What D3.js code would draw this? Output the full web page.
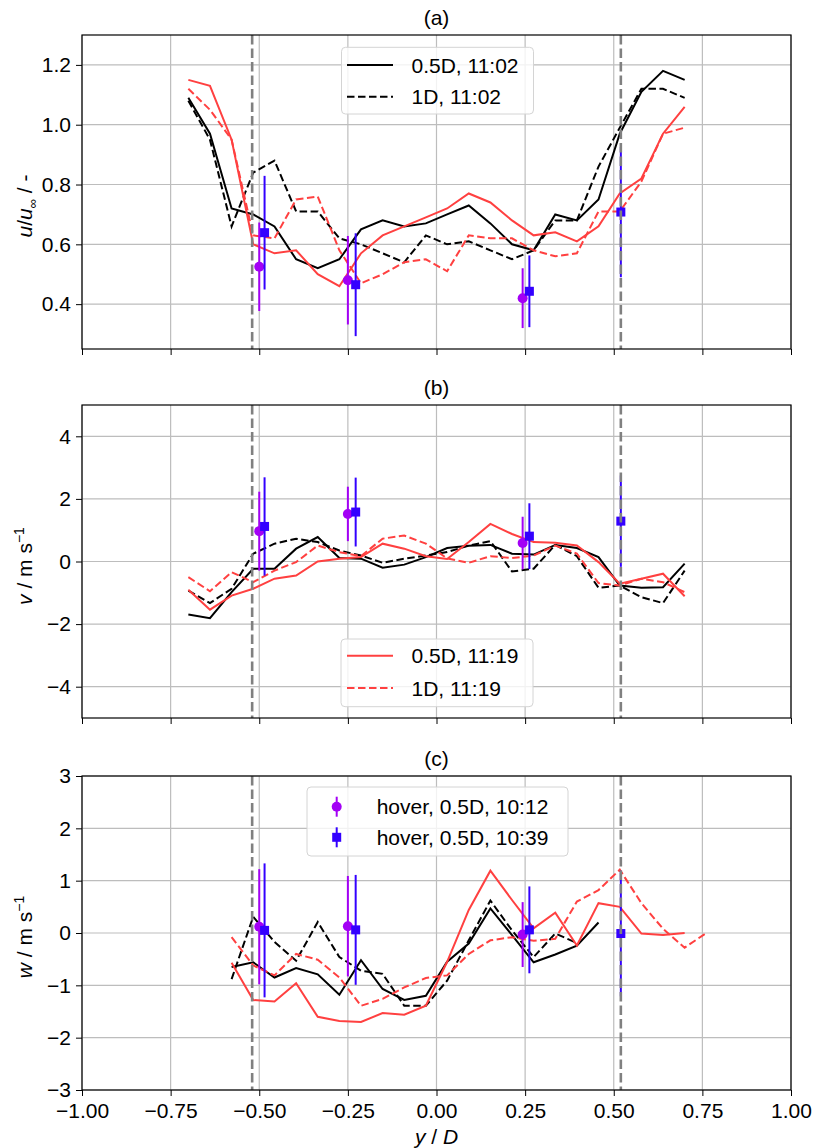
<!DOCTYPE html>
<html><head><meta charset="utf-8">
<script src="https://cdn.jsdelivr.net/npm/d3@7"></script>
<style>body{margin:0;background:#fff} text{font-family:"Liberation Sans",Arial,sans-serif;fill:#000}</style>
</head><body><svg id="chart" width="815" height="1148"></svg>
<script>
// ---------- data ----------
const xs = [-0.700,-0.639,-0.578,-0.517,-0.457,-0.396,-0.335,-0.274,-0.213,-0.152,-0.091,-0.030,0.030,0.091,0.152,0.213,0.274,0.335,0.396,0.457,0.517,0.578,0.639,0.700,0.761];
const xTicks = [-1.00,-0.75,-0.50,-0.25,0.00,0.25,0.50,0.75,1.00];
const turbineEdges = [-0.52, 0.52];

// panel (a) u/u_inf
const aBlackSolid  = [1.09,0.97,0.72,0.70,0.66,0.55,0.52,0.55,0.65,0.68,0.66,0.67,0.70,0.73,0.67,0.60,0.58,0.70,0.68,0.75,0.97,1.11,1.18,1.15];
const aBlackDashed = [1.08,0.95,0.66,0.84,0.88,0.71,0.71,0.62,0.60,0.57,0.54,0.63,0.60,0.61,0.58,0.55,0.58,0.68,0.68,0.86,0.99,1.12,1.12,1.09];
const aRedSolid    = [1.15,1.13,0.95,0.60,0.57,0.58,0.50,0.46,0.57,0.63,0.66,0.69,0.72,0.77,0.74,0.68,0.63,0.64,0.61,0.66,0.77,0.82,0.97,1.06];
const aRedDashed   = [1.12,1.05,0.95,0.63,0.62,0.75,0.76,0.58,0.47,0.50,0.54,0.55,0.51,0.63,0.62,0.62,0.58,0.56,0.57,0.71,0.71,0.81,0.97,0.99];
const aTicks = [0.4,0.6,0.8,1.0,1.2];

// panel (b) v
const bBlackSolid  = [-1.69,-1.81,-0.98,-0.23,-0.23,0.41,0.78,0.11,0.09,-0.20,-0.10,0.14,0.43,0.50,0.53,0.25,0.22,0.53,0.43,0.14,-0.77,-0.84,-0.82,-0.07];
const bBlackDashed = [-0.93,-1.33,-0.87,0.25,0.57,0.73,0.62,0.35,0.19,-0.04,0.09,0.19,0.30,0.51,0.65,-0.32,-0.23,0.53,0.17,-0.84,-0.77,-1.14,-1.33,-0.29];
const bRedSolid    = [-0.90,-1.54,-1.09,-0.87,-0.55,-0.45,0.00,0.09,0.14,0.57,0.41,0.17,0.08,0.62,1.20,0.88,0.62,0.60,0.51,-0.02,-0.71,-0.55,-0.39,-1.11];
const bRedDashed   = [-0.50,-0.95,-0.34,-0.66,-0.29,-0.02,0.51,0.30,0.17,0.73,0.83,0.57,0.10,-0.04,0.17,0.11,0.19,0.51,0.25,-0.69,-0.77,-0.55,-0.66,-0.98];
const bTicks = [-4,-2,0,2,4];

// panel (c) w
const cBlackSolid  = [null,null,-0.65,-0.56,-0.85,-0.67,-0.79,-1.18,-0.52,-1.07,-1.28,-1.20,-0.55,-0.20,0.47,-0.04,-0.56,-0.41,-0.24,0.20];
const cBlackDashed = [null,null,-0.88,0.31,-0.17,-0.53,0.21,-0.46,-0.72,-0.78,-1.39,-1.39,-0.91,-0.14,0.62,0.05,-0.46,-0.01,-0.19];
const cRedSolid    = [null,null,-0.57,-1.28,-1.31,-0.96,-1.60,-1.68,-1.70,-1.53,-1.56,-1.39,-0.55,0.44,1.19,0.63,0.09,0.39,-0.24,0.57,0.50,-0.01,-0.04,0.00];
const cRedDashed   = [null,null,-0.08,-0.62,-0.81,-0.40,-0.51,-0.85,-1.39,-1.26,-1.04,-0.86,-0.81,-0.40,-0.14,-0.08,-0.15,-0.11,0.60,0.82,1.21,0.57,0.08,-0.28,0.00];
const cTicks = [-3,-2,-1,0,1,2,3];

// hover measurements
const hover1012X = [-0.500,-0.250,0.243];
const hover1012A = [0.525,0.480,0.420], hover1012AErr = [0.148,0.148,0.100];
const hover1012B = [0.97,1.52,0.59],    hover1012BErr = [1.26,0.87,0.84];
const hover1012C = [0.12,0.13,-0.03],   hover1012CErr = [1.10,0.96,0.62];
const hover1039X = [-0.485,-0.228,0.262,0.520];
const hover1039A = [0.639,0.465,0.443,0.708], hover1039AErr = [0.190,0.172,0.120,0.218];
const hover1039B = [1.12,1.58,0.81,1.29],     hover1039BErr = [1.57,1.10,1.05,1.46];
const hover1039C = [0.05,0.06,0.06,-0.01],    hover1039CErr = [1.28,1.05,0.83,1.20];

// ---------- layout / style ----------
const RED = "#ff4040", PURPLE = "#a300f5", BLUE = "#3300ff";
const FONT = 21;
const L = 82, R = 791;
const svg = d3.select("#chart");
const x = d3.scaleLinear().domain([-1,1]).range([L,R]);

const panels = [
  {title:"(a)", top:35, bottom:349, domain:[0.25,1.3], ticks:aTicks, fmt:d3.format(".1f"),
   lines:[[aBlackSolid,"#000",null],[aBlackDashed,"#000","7.5,3.5"],[aRedSolid,RED,null],[aRedDashed,RED,"7.5,3.5"]],
   h1:[hover1012A,hover1012AErr], h2:[hover1039A,hover1039AErr], labelY:206, xLabels:false},
  {title:"(b)", top:405, bottom:718, domain:[-5,5], ticks:bTicks, fmt:d3.format("d"),
   lines:[[bBlackSolid,"#000",null],[bBlackDashed,"#000","7.5,3.5"],[bRedSolid,RED,null],[bRedDashed,RED,"7.5,3.5"]],
   h1:[hover1012B,hover1012BErr], h2:[hover1039B,hover1039BErr], labelY:566, xLabels:false},
  {title:"(c)", top:776, bottom:1090, domain:[-3,3], ticks:cTicks, fmt:d3.format("d"),
   lines:[[cBlackSolid,"#000",null],[cBlackDashed,"#000","7.5,3.5"],[cRedSolid,RED,null],[cRedDashed,RED,"7.5,3.5"]],
   h1:[hover1012C,hover1012CErr], h2:[hover1039C,hover1039CErr], labelY:937, xLabels:true}
];

panels.forEach((p, pi) => {
  const y = d3.scaleLinear().domain(p.domain).range([p.bottom, p.top]);
  const g = svg.append("g");
  const clipId = "clip"+pi;
  svg.append("clipPath").attr("id",clipId).append("rect")
    .attr("x",L).attr("y",p.top).attr("width",R-L).attr("height",p.bottom-p.top);

  // grid
  g.append("g").selectAll("line").data(xTicks).join("line")
    .attr("x1",d=>x(d)).attr("x2",d=>x(d)).attr("y1",p.top).attr("y2",p.bottom)
    .attr("stroke","#bdbdbd").attr("stroke-width",1.2);
  g.append("g").selectAll("line").data(p.ticks).join("line")
    .attr("x1",L).attr("x2",R).attr("y1",d=>y(d)).attr("y2",d=>y(d))
    .attr("stroke","#bdbdbd").attr("stroke-width",1.2);

  const plot = g.append("g").attr("clip-path",`url(#${clipId})`);
  const line = d3.line().defined(d=>d[1]!=null).x(d=>x(d[0])).y(d=>y(d[1]));
  p.lines.forEach(([vals,color,dash]) => {
    const pts = vals.map((v,i)=>[xs[i],v]);
    plot.append("path").attr("d",line(pts)).attr("fill","none")
      .attr("stroke",color).attr("stroke-width",2)
      .attr("stroke-dasharray",dash);
  });

  // error bars
  const drawHover = (xv, [vals,errs], color, shape) => {
    const gg = plot.append("g");
    xv.forEach((xx,i) => {
      gg.append("line").attr("x1",x(xx)).attr("x2",x(xx))
        .attr("y1",y(vals[i]-errs[i])).attr("y2",y(vals[i]+errs[i]))
        .attr("stroke",color).attr("stroke-width",2);
      if (shape==="circle") gg.append("circle").attr("cx",x(xx)).attr("cy",y(vals[i])).attr("r",5).attr("fill",color);
      else gg.append("rect").attr("x",x(xx)-4.5).attr("y",y(vals[i])-4.5).attr("width",9).attr("height",9).attr("fill",color);
    });
  };
  drawHover(hover1012X, p.h1, PURPLE, "circle");
  drawHover(hover1039X, p.h2, BLUE, "square");

  // turbine edges
  plot.append("g").selectAll("line").data(turbineEdges).join("line")
    .attr("x1",d=>x(d)).attr("x2",d=>x(d)).attr("y1",p.top).attr("y2",p.bottom)
    .attr("stroke","#808080").attr("stroke-width",2.6).attr("stroke-dasharray","9.5,4");

  // axes
  const ya = d3.axisLeft(y).tickValues(p.ticks).tickFormat(p.fmt).tickSize(6).tickPadding(5);
  const yg = g.append("g").attr("transform",`translate(${L},0)`).call(ya);
  const xa = d3.axisBottom(x).tickValues(xTicks).tickFormat(p.xLabels ? d3.format(".2f") : "").tickSize(6).tickPadding(7);
  const xg = g.append("g").attr("transform",`translate(0,${p.bottom})`).call(xa);
  [yg,xg].forEach(a => {
    a.select(".domain").remove();
    a.selectAll("text").attr("font-size",FONT).attr("font-family","Liberation Sans, Arial, sans-serif").attr("fill","#000");
    a.selectAll("line").attr("stroke","#000").attr("stroke-width",1);
  });
  g.append("rect").attr("x",L).attr("y",p.top).attr("width",R-L).attr("height",p.bottom-p.top)
    .attr("fill","none").attr("stroke","#000").attr("stroke-width",1.2);

  // title
  g.append("text").attr("x",(L+R)/2).attr("y",p.top-10).attr("text-anchor","middle")
    .attr("font-size",FONT).text(p.title);
});

// y labels
function yLabel(cy, build){
  const t = svg.append("text").attr("transform",`translate(32,${cy}) rotate(-90)`)
    .attr("text-anchor","middle").attr("font-size",FONT);
  build(t);
}
yLabel(panels[0].labelY, t => {
  t.append("tspan").attr("font-style","italic").text("u");
  t.append("tspan").text("/");
  t.append("tspan").attr("font-style","italic").text("u");
  t.append("tspan").attr("font-size",13).attr("dy",5).text("\u221e");
  t.append("tspan").attr("dy",-5).text(" / -");
});
yLabel(panels[1].labelY, t => {
  t.append("tspan").attr("font-style","italic").text("v");
  t.append("tspan").text(" / m s");
  t.append("tspan").attr("font-size",14).attr("dy",-8).text("\u22121");
});
yLabel(panels[2].labelY, t => {
  t.append("tspan").attr("font-style","italic").text("w");
  t.append("tspan").text(" / m s");
  t.append("tspan").attr("font-size",14).attr("dy",-8).text("\u22121");
});
// x label
const xl = svg.append("text").attr("x",(L+R)/2).attr("y",1144).attr("text-anchor","middle").attr("font-size",FONT);
xl.append("tspan").attr("font-style","italic").text("y");
xl.append("tspan").text(" / ");
xl.append("tspan").attr("font-style","italic").text("D");

// legends
function legend(bx, by, bw, bh, rows){
  const g = svg.append("g");
  g.append("rect").attr("x",bx).attr("y",by).attr("width",bw).attr("height",bh).attr("rx",4)
    .attr("fill","#fff").attr("fill-opacity",0.8).attr("stroke","#d4d4d4").attr("stroke-width",1);
  rows.forEach(r => {
    if (r.type==="line") {
      g.append("line").attr("x1",r.hx0).attr("x2",r.hx1).attr("y1",r.cy).attr("y2",r.cy)
        .attr("stroke",r.color).attr("stroke-width",2).attr("stroke-dasharray",r.dash);
    } else {
      g.append("line").attr("x1",r.hx).attr("x2",r.hx).attr("y1",r.cy-10).attr("y2",r.cy+10)
        .attr("stroke",r.color).attr("stroke-width",2);
      if (r.shape==="circle") g.append("circle").attr("cx",r.hx).attr("cy",r.cy).attr("r",5).attr("fill",r.color);
      else g.append("rect").attr("x",r.hx-4.5).attr("y",r.cy-4.5).attr("width",9).attr("height",9).attr("fill",r.color);
    }
    g.append("text").attr("x",r.tx).attr("y",r.cy+7.5).attr("font-size",FONT).text(r.label);
  });
}
legend(341.5,47.3,192,66.7,[
  {type:"line",hx0:347,hx1:393,cy:65,color:"#000",dash:null,tx:411.5,label:"0.5D, 11:02"},
  {type:"line",hx0:347,hx1:393,cy:96.7,color:"#000",dash:"7.5,3.5",tx:411.5,label:"1D, 11:02"}
]);
legend(341,639,192,67.7,[
  {type:"line",hx0:347,hx1:393,cy:655.7,color:RED,dash:null,tx:411.5,label:"0.5D, 11:19"},
  {type:"line",hx0:347,hx1:393,cy:688,color:RED,dash:"7.5,3.5",tx:411.5,label:"1D, 11:19"}
]);
legend(307,787,261,69,[
  {type:"err",hx:336.7,cy:806.7,color:PURPLE,shape:"circle",tx:376.7,label:"hover, 0.5D, 10:12"},
  {type:"err",hx:336.7,cy:837.3,color:BLUE,shape:"square",tx:376.7,label:"hover, 0.5D, 10:39"}
]);
</script></body></html>
